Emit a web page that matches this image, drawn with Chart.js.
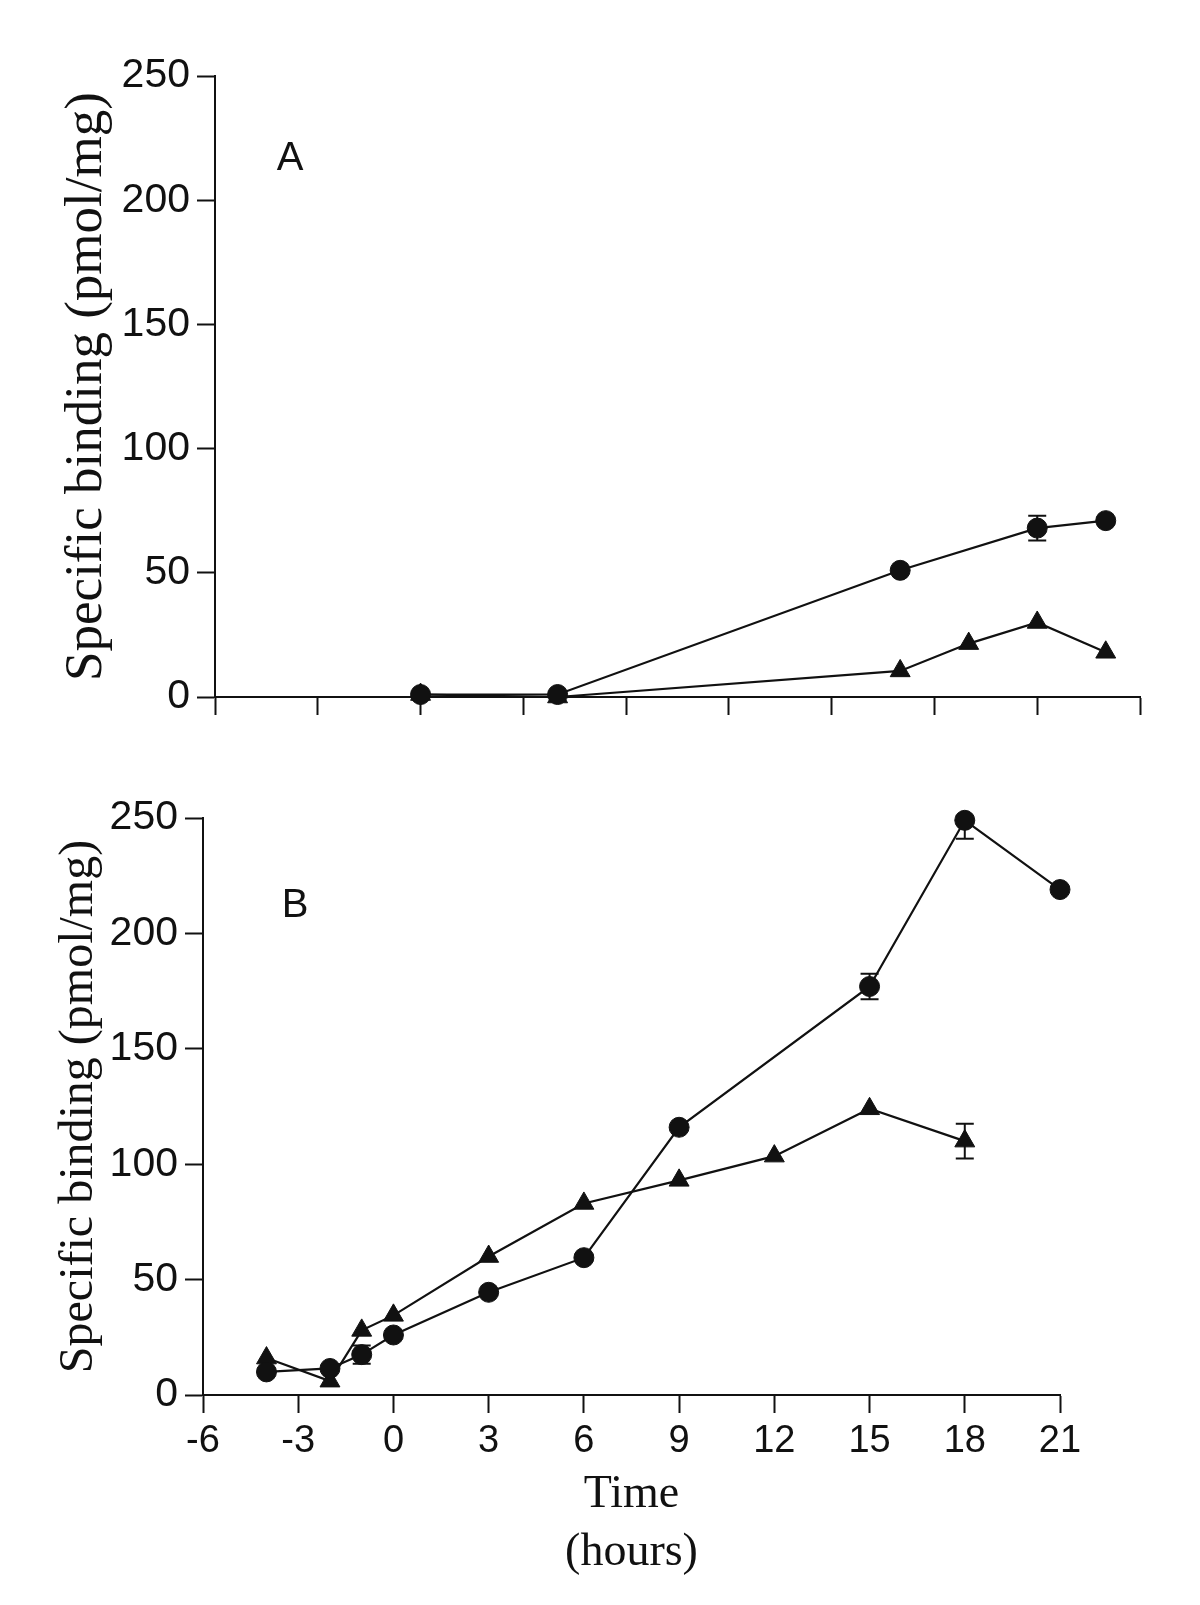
<!DOCTYPE html>
<html>
<head>
<meta charset="utf-8">
<script src="https://cdn.jsdelivr.net/npm/chart.js@4.4.1/dist/chart.umd.min.js"></script>
<style>
  html, body { margin: 0; padding: 0; background: #fff; }
  #wrap { position: relative; width: 1200px; height: 1605px; }
  #wrap canvas { position: absolute; left: 0; top: 0; }
</style>
</head>
<body>
<div id="wrap">
  <canvas id="chartA" width="1200" height="1605"></canvas>
  <canvas id="chartB" width="1200" height="1605"></canvas>
</div>
<script>
// ── Data ─────────────────────────────────────────────────────────────
const xTicks = [-6, -3, 0, 3, 6, 9, 12, 15, 18, 21];

// Panel A
const aCircleX = [0, 4, 14, 18, 20];
const aCircleY = [1, 1, 51, 68, 71];
const aCircleErrLo = [0, 0, 0, 5, 0];
const aCircleErrHi = [0, 0, 0, 5, 0];
const aTriX = [0, 4, 14, 16, 18, 20];
const aTriY = [1, 0, 10.5, 21.5, 30, 18];
const aTriErrLo = [0, 0, 0, 0, 0, 0];
const aTriErrHi = [0, 0, 0, 0, 0, 0];

// Panel B
const bCircleX = [-4, -2, -1, 0, 3, 6, 9, 15, 18, 21];
const bCircleY = [10, 11.5, 17.5, 26, 44.5, 59.5, 116, 177, 249, 219];
const bCircleErrLo = [0, 0, 4, 0, 0, 0, 0, 5.5, 8, 0];
const bCircleErrHi = [0, 0, 4, 0, 0, 0, 0, 5.5, 2, 0];
const bTriX = [-4, -2, -1, 0, 3, 6, 9, 12, 15, 18];
const bTriY = [16, 6, 28, 34.5, 60, 83, 93, 103.5, 124, 110];
const bTriErrLo = [0, 0, 0, 0, 0, 0, 0, 0, 0, 7.5];
const bTriErrHi = [0, 0, 0, 0, 0, 0, 0, 0, 0, 7.5];

const INK = '#111';

// ── Helpers ──────────────────────────────────────────────────────────
const pts = (xs, ys) => xs.map((x, i) => ({ x: x, y: ys[i] }));

function series(xs, ys, lo, hi, style) {
    return {
        data: pts(xs, ys),
        errLo: lo,
        errHi: hi,
        borderColor: INK,
        backgroundColor: INK,
        borderWidth: 2.2,
        pointStyle: style,
        pointRadius: style === 'circle' ? 10 : 11.5,
        pointBorderWidth: 1,
        pointBorderColor: INK,
        pointBackgroundColor: INK,
        tension: 0,
        fill: false,
        clip: false
    };
}

// error bars drawn through the scales, under the markers
const errorBars = {
    id: 'errorBars',
    beforeDatasetsDraw(chart) {
        const { ctx, scales: { x, y } } = chart;
        ctx.save();
        ctx.strokeStyle = INK;
        ctx.lineWidth = 2;
        chart.data.datasets.forEach(ds => {
            ds.data.forEach((p, i) => {
                const lo = ds.errLo[i], hi = ds.errHi[i];
                if (!lo && !hi) return;
                const px = x.getPixelForValue(p.x);
                const top = y.getPixelForValue(p.y + hi);
                const bot = y.getPixelForValue(p.y - lo);
                ctx.beginPath();
                ctx.moveTo(px, top); ctx.lineTo(px, bot);
                ctx.moveTo(px - 9, top); ctx.lineTo(px + 9, top);
                ctx.moveTo(px - 9, bot); ctx.lineTo(px + 9, bot);
                ctx.stroke();
            });
        });
        ctx.restore();
    }
};

// panel letter
const panelLabel = {
    id: 'panelLabel',
    afterDraw(chart, args, opts) {
        const { ctx, chartArea } = chart;
        ctx.save();
        ctx.fillStyle = INK;
        ctx.font = '40px "Liberation Sans", Arial, sans-serif';
        ctx.textAlign = 'center';
        ctx.textBaseline = 'middle';
        ctx.fillText(opts.text, chartArea.left + opts.dx, chartArea.top + opts.dy);
        ctx.restore();
    }
};

function makeOptions(cfg) {
    return {
        responsive: false,
        animation: false,
        layout: { padding: { left: 0, top: cfg.top, right: cfg.right, bottom: 0 } },
        plugins: {
            legend: { display: false },
            tooltip: { enabled: false },
            panelLabel: cfg.label
        },
        scales: {
            x: {
                type: 'linear',
                min: -6, max: 21,
                afterBuildTicks: s => { s.ticks = xTicks.map(v => ({ value: v })); },
                afterFit: s => { s.height = cfg.xHeight; },
                border: { display: true, color: INK, width: 2 },
                grid: { drawOnChartArea: false, drawTicks: true, tickLength: 18, tickColor: INK, tickWidth: 2 },
                ticks: {
                    display: cfg.xLabels,
                    color: INK,
                    padding: 6,
                    maxRotation: 0,
                    font: { family: '"Liberation Sans", Arial, sans-serif', size: 38 }
                },
                title: cfg.xTitle
            },
            y: {
                min: 0, max: 250,
                afterFit: s => { s.width = cfg.yWidth; },
                border: { display: true, color: INK, width: 2 },
                grid: { drawOnChartArea: false, drawTicks: true, tickLength: 18, tickColor: INK, tickWidth: 2 },
                ticks: {
                    stepSize: 50,
                    color: INK,
                    padding: 7,
                    font: { family: '"Liberation Sans", Arial, sans-serif', size: 41 }
                },
                title: {
                    display: true,
                    text: 'Specific binding (pmol/mg)',
                    color: INK,
                    padding: { top: cfg.yTitlePad, bottom: 0 },
                    font: { family: '"Liberation Serif", "Times New Roman", serif', size: cfg.yTitleSize }
                }
            }
        }
    };
}

// ── Charts ───────────────────────────────────────────────────────────
new Chart(document.getElementById('chartA'), {
    type: 'line',
    data: {
        datasets: [
            series(aCircleX, aCircleY, aCircleErrLo, aCircleErrHi, 'circle'),
            series(aTriX, aTriY, aTriErrLo, aTriErrHi, 'triangle')
        ]
    },
    options: makeOptions({
        top: 76, right: 60, xHeight: 908, yWidth: 215, yTitlePad: 55, yTitleSize: 53,
        xLabels: false,
        xTitle: { display: false },
        label: { text: 'A', dx: 75, dy: 83 }
    }),
    plugins: [errorBars, panelLabel]
});

new Chart(document.getElementById('chartB'), {
    type: 'line',
    data: {
        datasets: [
            series(bCircleX, bCircleY, bCircleErrLo, bCircleErrHi, 'circle'),
            series(bTriX, bTriY, bTriErrLo, bTriErrHi, 'triangle')
        ]
    },
    options: makeOptions({
        top: 818, right: 140, xHeight: 210, yWidth: 203, yTitlePad: 51, yTitleSize: 48,
        xLabels: true,
        xTitle: {
            display: true,
            text: ['Time', '(hours)'],
            color: INK,
            padding: { top: 0, bottom: 23 },
            font: { family: '"Liberation Serif", "Times New Roman", serif', size: 46, lineHeight: 1.26 }
        },
        label: { text: 'B', dx: 92, dy: 88 }
    }),
    plugins: [errorBars, panelLabel]
});
</script>
</body>
</html>
